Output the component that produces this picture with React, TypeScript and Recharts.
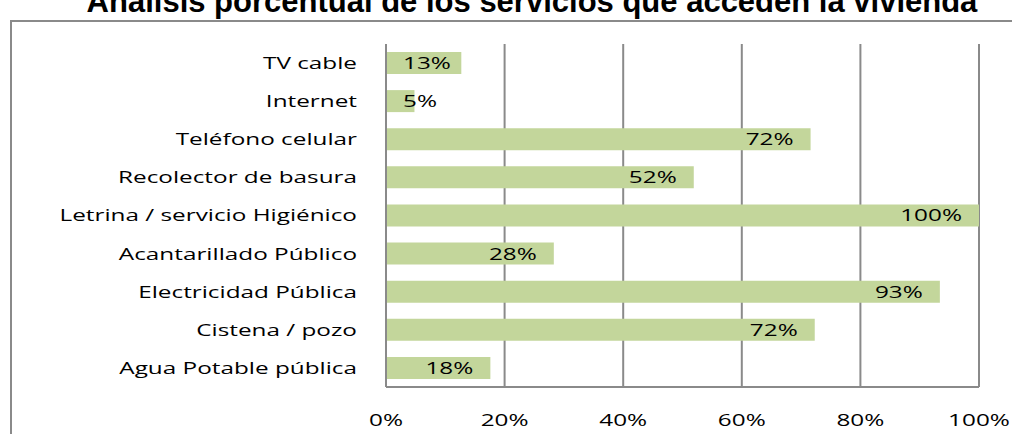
import React from 'react'
import { BarChart, Bar, XAxis, YAxis, CartesianGrid, LabelList } from 'recharts'

const categories = [
  'TV cable',
  'Internet',
  'Teléfono celular',
  'Recolector de basura',
  'Letrina / servicio Higiénico',
  'Acantarillado Público',
  'Electricidad Pública',
  'Cistena / pozo',
  'Agua Potable  pública',
]
const percentages = [12.7, 4.8, 71.6, 51.9, 100, 28.3, 93.4, 72.3, 17.6]
const xTicks = [0, 20, 40, 60, 80, 100]

const data = categories.map((name, i) => ({ name, value: percentages[i] }))

const FONT = '"Open Sans", sans-serif'
const STRETCH = 1.43
const FONT_SIZE = 17
const GRID = '#8a8a8a'
const BAR = '#c3d69b'

// rough width of a label in px (open sans, stretched) for the clamp below
function labelWidth(text: string) {
  let w = 0
  for (const ch of text) w += ch === '%' ? 0.826 : 0.572
  return w * FONT_SIZE * STRETCH
}

const CategoryTick = ({ x, y, payload }: any) => (
  <text
    transform={`translate(${x},${y}) scale(${STRETCH},1)`}
    textAnchor="end"
    dy="0.35em"
    fontFamily={FONT}
    fontSize={FONT_SIZE}
    fill="#000"
  >
    {payload.value}
  </text>
)

const PercentTick = ({ x, y, payload }: any) => (
  <text
    transform={`translate(${x},${y}) scale(${STRETCH},1)`}
    textAnchor="middle"
    dy="0.71em"
    fontFamily={FONT}
    fontSize={FONT_SIZE}
    fill="#000"
  >
    {`${payload.value}%`}
  </text>
)

const ValueLabel = ({ x, y, width, height, value }: any) => {
  const text = `${Math.round(value)}%`
  const w = labelWidth(text)
  let right = x + width - 17
  if (right - w < x + 17) right = x + 17 + w
  return (
    <text
      transform={`translate(${right},${y + height / 2}) scale(${STRETCH},1)`}
      textAnchor="end"
      dy="0.35em"
      fontFamily={FONT}
      fontSize={FONT_SIZE}
      fill="#000"
    >
      {text}
    </text>
  )
}

export default function App() {
  return (
    <div style={{ position: 'absolute', left: 0, top: 0, width: 1012, height: 434, overflow: 'hidden', background: '#fff' }}>
      <div
        style={{
          position: 'absolute',
          left: 10,
          top: 20,
          width: 1100,
          height: 500,
          borderLeft: `2px solid ${GRID}`,
          borderTop: `2px solid ${GRID}`,
        }}
      />
      <div
        style={{
          position: 'absolute',
          left: 0,
          width: 1064,
          top: -16,
          textAlign: 'center',
          fontFamily: '"Liberation Sans", Arial, sans-serif',
          fontWeight: 'bold',
          fontSize: 31,
          lineHeight: '36px',
          whiteSpace: 'nowrap',
        }}
      >
        Análisis porcentual de los servicios que acceden la vivienda
      </div>
      <div style={{ position: 'absolute', left: 0, top: 0 }}>
        <BarChart
          width={1012}
          height={434}
          data={data}
          layout="vertical"
          margin={{ top: 44, right: 33, left: 10, bottom: 7 }}
        >
          <CartesianGrid horizontal={false} stroke={GRID} strokeWidth={2} />
          <XAxis
            type="number"
            domain={[0, 100]}
            ticks={xTicks}
            tick={<PercentTick />}
            tickLine={false}
            axisLine={{ stroke: GRID, strokeWidth: 2 }}
            tickMargin={21}
            height={40}
            interval={0}
          />
          <YAxis
            type="category"
            dataKey="name"
            width={376}
            tick={<CategoryTick />}
            tickLine={false}
            axisLine={{ stroke: GRID, strokeWidth: 2 }}
            tickMargin={23}
            interval={0}
          />
          <Bar dataKey="value" fill={BAR} barSize={22} isAnimationActive={false}>
            <LabelList dataKey="value" content={<ValueLabel />} />
          </Bar>
        </BarChart>
      </div>
    </div>
  )
}
